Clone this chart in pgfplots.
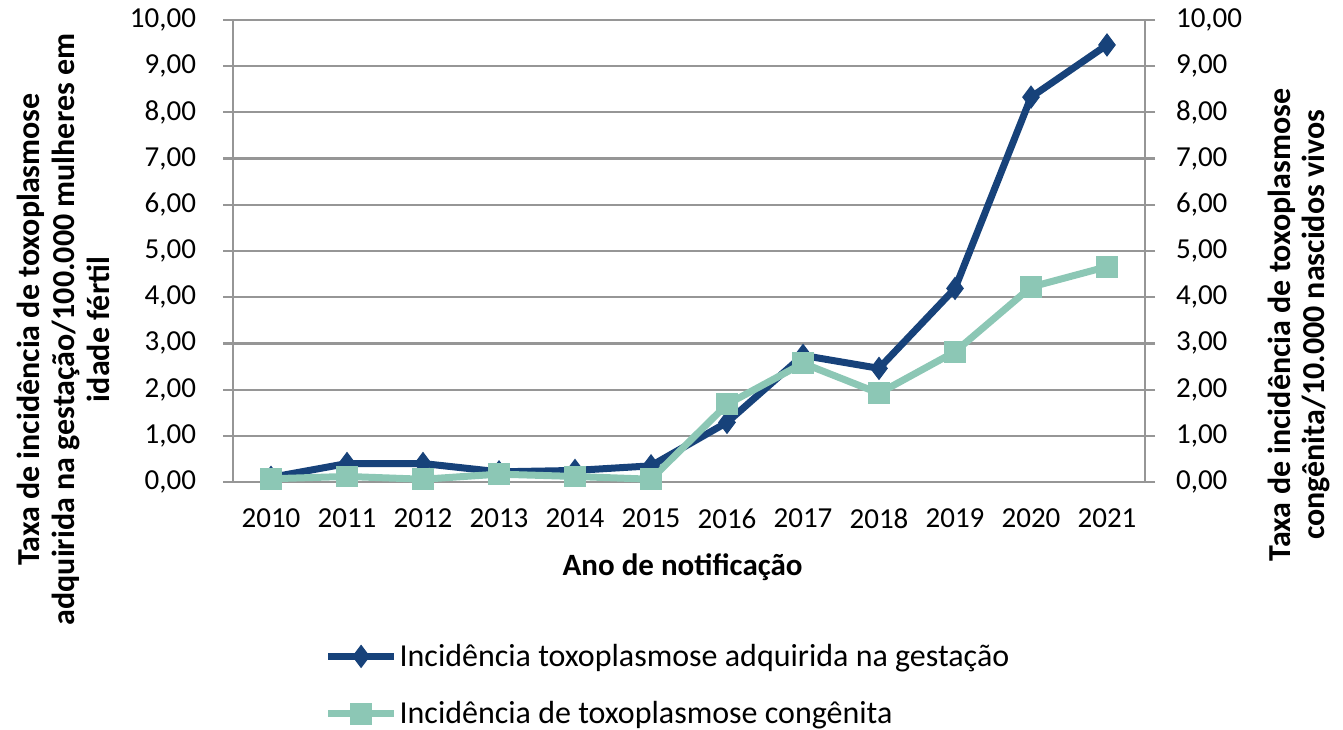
\documentclass[border=0pt]{standalone}
\usepackage{pgfplots}
\pgfplotsset{compat=1.18}
\usepackage{fontspec}
\setmainfont{Carlito}
\definecolor{navy}{HTML}{17427A}
\definecolor{mint}{HTML}{8CC7B5}
\definecolor{gridgray}{HTML}{969696}
\begin{document}
\begin{tikzpicture}
\path[use as bounding box] (0,0) rectangle (671.5pt,364.5pt);
\pgfplotsset{
  common/.style={
    width=456pt, height=231pt, scale only axis,
    at={(116.5pt,123.5pt)}, anchor=south west,
    xmin=-0.5, xmax=11.5, ymin=0, ymax=10,
    ytick={0,1,...,10},
    tick align=outside,
    major tick length=5pt,
    tick style={gridgray, line width=1.1pt},
    axis line style={gridgray, line width=1.1pt},
    ticklabel style={font=\fontsize{14.5}{16}\selectfont, text=black},
    /pgf/number format/.cd, fixed, fixed zerofill, precision=2, use comma, 1000 sep={}, assume math mode=true,
  },
}
\begin{axis}[common,
  axis x line*=bottom, axis y line*=left,
  ymajorgrids, grid style={gridgray, line width=1.1pt},
  xtick={0,...,11},
  xticklabels={2010,2011,2012,2013,2014,2015,2016,2017,2018,2019,2020,2021},
  xtick style={draw=none},
  minor xtick={-0.5,0.5,...,11.5},
  minor tick length=5pt,
  minor tick style={gridgray, line width=1.1pt},
  xticklabel style={yshift=-5pt},
  yticklabel style={xshift=-10pt},
  clip=false,
  legend style={draw=none, fill=none, at={(0.1,-0.345)}, anchor=north west,
    font=\fontsize{16}{18}\selectfont, row sep=14pt, inner sep=0pt,
    nodes={inner sep=1pt},
    /tikz/every even column/.append style={column sep=1pt}},
  legend cell align=left,
  legend image code/.code={\draw[mark repeat=2,mark phase=2,#1] plot coordinates {(0cm,0cm) (0.58cm,0cm) (1.16cm,0cm)};},
]
\addplot[navy, line width=3.5pt, mark=diamond*, mark size=5.5pt, mark options={solid, line width=0.5pt}]
coordinates {(0,0.10) (1,0.40) (2,0.40) (3,0.22) (4,0.25) (5,0.35) (6,1.29) (7,2.74) (8,2.46) (9,4.19) (10,8.33) (11,9.46)};
\addlegendentry{Incidência toxoplasmose adquirida na gestação}
\addplot[mint, line width=3.5pt, mark=square*, mark size=5.2pt, mark options={solid, line width=0.5pt}]
coordinates {(0,0.07) (1,0.12) (2,0.06) (3,0.17) (4,0.12) (5,0.06) (6,1.68) (7,2.57) (8,1.92) (9,2.82) (10,4.22) (11,4.66)};
\addlegendentry{Incidência de toxoplasmose congênita}
\node[rotate=90, align=center, font=\bfseries\fontsize{16}{17.5}\selectfont] at (axis description cs:-0.186,0.33)
  {Taxa de incidência  de toxoplasmose\\adquirida na gestação/100.000 mulheres em\\idade fértil};
\node[rotate=90, align=center, font=\bfseries\fontsize{16}{17}\selectfont] at (axis description cs:1.169,0.34)
  {Taxa de incidência  de toxoplasmose\\congênita/10.000 nascidos vivos};
\node[font=\bfseries\fontsize{15.5}{17}\selectfont] at (axis description cs:0.493,-0.184) {Ano de notificação};
\end{axis}
\begin{axis}[common,
  axis x line=none, axis y line*=right,
  yticklabel style={xshift=7pt},
]
\end{axis}
\end{tikzpicture}
\end{document}
